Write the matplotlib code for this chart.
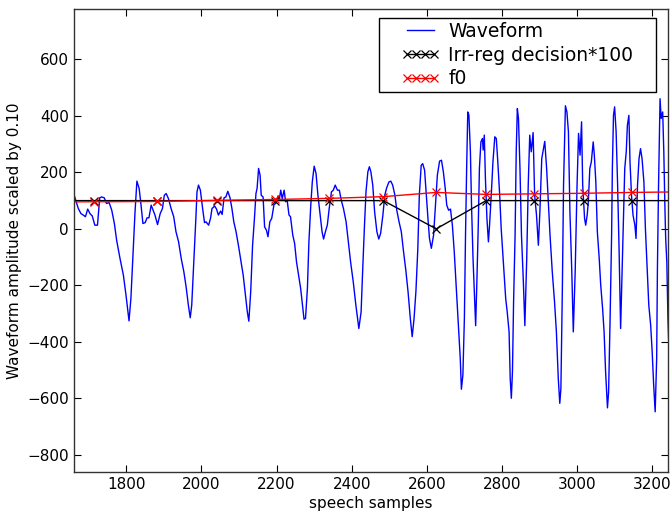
import numpy as np
import matplotlib
matplotlib.use('Agg')
from matplotlib import pyplot as plt
from matplotlib.patches import Rectangle
from matplotlib.transforms import IdentityTransform

# waveform samples (sample index, amplitude*0.10)
wave_x = [1661, 1665, 1672, 1679, 1685, 1691, 1697, 1703, 1709, 1716, 1723, 1729, 1734, 1741, 1747,
          1754, 1761, 1768, 1774, 1783, 1792, 1799, 1807, 1812, 1818, 1823, 1828, 1834, 1839, 1844,
          1850, 1855, 1860, 1866, 1871, 1876, 1883, 1890, 1896, 1901, 1906, 1912, 1919, 1926, 1932,
          1939, 1946, 1953, 1959, 1965, 1970, 1974, 1980, 1985, 1988, 1992, 1997, 2003, 2008, 2012,
          2019, 2024, 2028, 2035, 2040, 2045, 2051, 2055, 2060, 2065, 2070, 2076, 2081, 2086, 2092,
          2099, 2104, 2111, 2117, 2122, 2126, 2131, 2136, 2141, 2145, 2148, 2152, 2156, 2159, 2164,
          2168, 2173, 2177, 2182, 2187, 2193, 2198, 2204, 2207, 2211, 2215, 2220, 2224, 2228, 2233,
          2237, 2243, 2248, 2253, 2260, 2264, 2268, 2273, 2277, 2282, 2286, 2291, 2295, 2300, 2305,
          2310, 2316, 2321, 2325, 2330, 2335, 2340, 2346, 2351, 2356, 2362, 2367, 2372, 2378, 2385,
          2391, 2397, 2404, 2411, 2419, 2425, 2429, 2434, 2438, 2443, 2447, 2451, 2456, 2461, 2467,
          2472, 2477, 2483, 2488, 2493, 2499, 2504, 2509, 2515, 2520, 2526, 2532, 2538, 2544, 2550,
          2556, 2561, 2566, 2571, 2576, 2580, 2585, 2589, 2594, 2598, 2603, 2607, 2612, 2618, 2623,
          2628, 2634, 2639, 2644, 2649, 2653, 2658, 2663, 2668, 2673, 2678, 2684, 2689, 2692, 2696,
          2700, 2703, 2706, 2709, 2712, 2716, 2719, 2723, 2727, 2730, 2733, 2737, 2740, 2744, 2748,
          2750, 2753, 2756, 2760, 2764, 2767, 2772, 2776, 2781, 2785, 2789, 2794, 2798, 2802, 2810,
          2814, 2819, 2822, 2825, 2828, 2831, 2835, 2838, 2841, 2844, 2848, 2852, 2857, 2861, 2866,
          2870, 2874, 2878, 2883, 2887, 2892, 2897, 2901, 2906, 2914, 2919, 2928, 2934, 2940, 2945,
          2950, 2954, 2957, 2961, 2964, 2969, 2973, 2977, 2981, 2986, 2990, 2995, 3000, 3004, 3008,
          3012, 3015, 3020, 3023, 3027, 3030, 3034, 3038, 3043, 3046, 3050, 3054, 3059, 3063, 3068,
          3072, 3076, 3081, 3084, 3088, 3092, 3094, 3097, 3100, 3104, 3108, 3112, 3116, 3120, 3124,
          3127, 3131, 3134, 3138, 3141, 3145, 3149, 3154, 3157, 3161, 3165, 3169, 3173, 3178, 3182,
          3187, 3191, 3196, 3200, 3204, 3208, 3212, 3214, 3217, 3220, 3221, 3224, 3228, 3231, 3234,
          3236, 3239, 3242, 3244]
wave_y = [119, 102, 72, 54, 49, 43, 70, 54, 46, 13, 13, 110, 113, 110, 90,
          93, 66, 19, -40, -105, -164, -235, -326, -247, -81, 60, 169, 143, 84, 19,
          22, 39, 39, 84, 66, 49, 15, 54, 72, 119, 125, 107, 72, 43, -10,
          -46, -105, -152, -205, -270, -315, -270, -105, 37, 131, 155, 137, 72, 22, 25,
          13, 37, 72, 81, 70, 49, 63, 51, 110, 113, 133, 110, 72, 25, -10,
          -64, -105, -164, -235, -294, -327, -223, -58, 37, 125, 143, 214, 190, 119, 113,
          7, -5, -28, 25, 37, 86, 90, 117, 102, 137, 107, 137, 96, 102, 49,
          43, -22, -52, -117, -176, -211, -258, -320, -317, -211, -46, 84, 166, 222, 196,
          119, 49, -10, -36, -10, 13, 72, 131, 137, 155, 137, 137, 102, 72, 25,
          -46, -117, -187, -270, -353, -294, -152, 13, 131, 202, 220, 202, 155, 60, -10,
          -36, -16, 49, 119, 145, 166, 169, 155, 119, 66, 25, -10, -81, -146, -223,
          -317, -382, -317, -220, -70, 119, 225, 231, 208, 131, 37, -34, -69, -22, 84,
          190, 240, 243, 202, 143, 84, 66, 70, 13, -81, -199, -341, -459, -568, -518,
          -317, -22, 214, 414, 403, 273, 84, -105, -247, -343, -199, 13, 214, 308, 320,
          279, 332, 178, 37, -46, 13, 131, 237, 326, 320, 237, 119, 1, -80, -247,
          -294, -365, -530, -600, -506, -258, -22, 273, 426, 391, 214, -22, -187, -343, -105,
          155, 332, 273, 341, 119, 49, -58, 60, 249, 310, 214, -22, -152, -258, -365,
          -530, -618, -565, -199, 155, 436, 414, 344, 60, -152, -365, -152, 155, 338, 261,
          379, 155, 37, 13, 49, 96, 214, 237, 308, 261, 166, -10, -105, -199, -282,
          -365, -506, -634, -577, -317, -22, 214, 402, 432, 344, 155, -81, -353, -152, 37,
          214, 273, 367, 402, 237, 119, 49, 13, -34, 155, 249, 284, 249, 166, 1,
          -152, -270, -341, -435, -553, -648, -459, -140, 155, 391, 461, 391, 414, 273, 72,
          -34, -117, -317, -400]

# analysis frames
frame_x = [1545, 1715, 1882, 2040, 2196, 2340, 2484, 2625, 2758, 2886, 3018, 3145, 3272]
irr_reg = [1, 1, 1, 1, 1, 1, 1, 0, 1, 1, 1, 1, 1]
f0 = [95, 96, 97, 101, 104, 108, 114, 129, 122, 124, 126, 129, 131]

plt.rcParams['xtick.direction'] = 'in'
plt.rcParams['ytick.direction'] = 'in'
plt.rcParams['xtick.top'] = True
plt.rcParams['ytick.right'] = True

fig = plt.figure(figsize=(6.71, 5.11), dpi=100)
ax = fig.add_axes([0.110, 0.077, 0.886, 0.905])

ax.plot(wave_x, wave_y, color='b', lw=1.0, label='Waveform')
ax.plot(frame_x, np.array(irr_reg) * 100, color='k', marker='x', ms=5.5, mew=0.9,
        lw=1.0, label='Irr-reg decision*100')
ax.plot(frame_x, f0, color='r', marker='x', ms=5.5, mew=0.9, lw=1.0, label='f0')

ax.set_xlim(1660, 3243)
ax.set_ylim(-860, 778)
ax.set_xticks(range(1800, 3201, 200))
ax.set_yticks(range(-800, 601, 200))
ax.tick_params(labelsize=11, length=5, width=0.8)
for s in ax.spines.values():
    s.set_linewidth(1.0)
    s.set_color('#333333')

ax.set_xlabel('speech samples', fontsize=11, labelpad=3)
ax.set_ylabel('Waveform amplitude scaled by 0.10', fontsize=11, labelpad=4)

# old-style legend: wide side padding, so draw the frame by hand
leg = ax.legend(loc='upper right', bbox_to_anchor=(637 / 671, 1 - 18.3 / 511),
                bbox_transform=fig.transFigure, borderaxespad=0, borderpad=0.2,
                frameon=False, numpoints=4, fontsize=13.5, handlelength=2.05,
                handletextpad=0.45, labelspacing=0.25)
fig.canvas.draw()
bb = leg.get_window_extent()
padx = 19
frame = Rectangle((bb.x0 - padx, bb.y0), bb.width + 2 * padx, bb.height,
                  transform=IdentityTransform(), facecolor='w', edgecolor='k',
                  lw=1.0, zorder=4.9)
ax.add_artist(frame)

fig.savefig('out.png', dpi=100)
